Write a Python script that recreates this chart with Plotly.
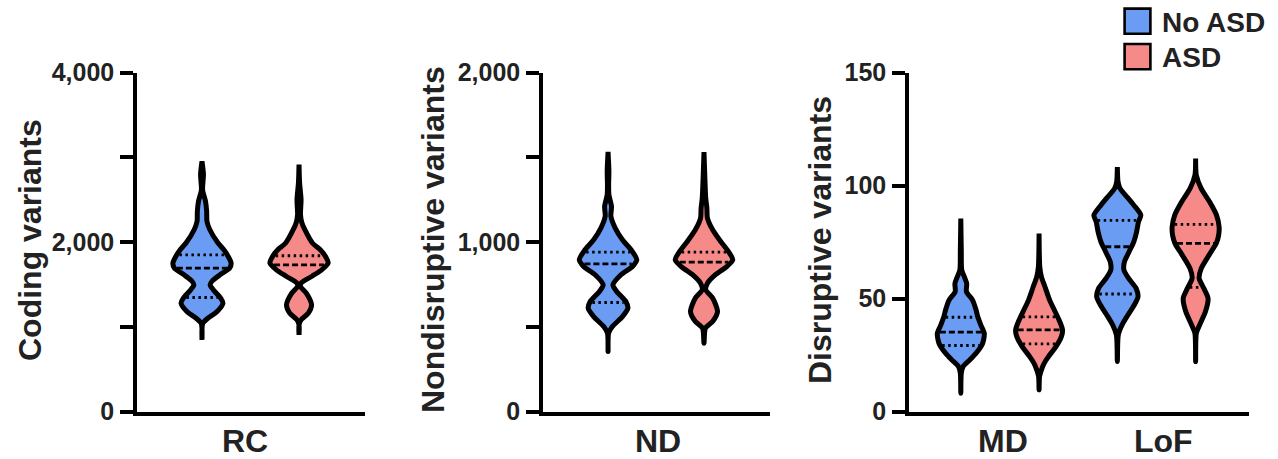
import numpy as np
import plotly.graph_objects as go

# ---------------- data ----------------
groups = ["No ASD", "ASD"]
colors = {"No ASD": "#6A9CF4", "ASD": "#F68A89"}

# Panel 1: RC (Coding variants)  -- density profile: values (y) and relative half-width
rc_no_vals = [2952, 2795, 2617, 2480, 2361, 2243, 2145, 1988, 1908, 1829, 1751, 1692, 1613, 1540, 1495, 1440, 1338, 1279, 1180, 1100, 1042, 980, 845]
rc_no_dens = [0, 0.05, 0.02, 0.12, 0.16, 0.17, 0.27, 0.55, 0.75, 0.9, 1.0, 0.95, 0.62, 0.35, 0.28, 0.38, 0.64, 0.72, 0.52, 0.2, 0.03, 0, 0]
rc_no_quart = [1345, 1692, 1849]
rc_asd_vals = [2913, 2697, 2499, 2322, 2224, 2145, 1988, 1908, 1829, 1751, 1672, 1593, 1515, 1475, 1397, 1259, 1160, 1081, 1022, 904]
rc_asd_dens = [0, 0.02, 0.07, 0.05, 0.1, 0.2, 0.46, 0.73, 0.91, 1.0, 0.78, 0.43, 0.07, 0.05, 0.25, 0.43, 0.32, 0.07, 0, 0]
rc_asd_quart = [1480, 1731, 1838]

# Panel 2: ND (Nondisruptive variants)
nd_no_vals = [1531, 1417, 1338, 1279, 1210, 1151, 1082, 1013, 954, 895, 856, 807, 747, 708, 649, 610, 560, 501, 462, 354]
nd_no_dens = [0, 0.03, 0.02, 0.03, 0.12, 0.1, 0.25, 0.5, 0.8, 1.0, 0.85, 0.45, 0.17, 0.3, 0.62, 0.69, 0.5, 0.15, 0.02, 0]
nd_no_quart = [643, 871, 940]
nd_asd_vals = [1531, 1378, 1260, 1201, 1141, 1072, 1003, 944, 895, 856, 807, 757, 718, 669, 590, 531, 492, 403]
nd_asd_dens = [0, 0.03, 0.06, 0.1, 0.12, 0.3, 0.58, 0.85, 1.0, 0.8, 0.4, 0.12, 0.06, 0.3, 0.47, 0.3, 0.05, 0]
nd_asd_quart = [728, 881, 940]

# Panel 3: MD and LoF (Disruptive variants)
md_no_vals = [85.4, 71.4, 62.6, 59.6, 56.7, 53.0, 49.3, 44.9, 42.0, 38.3, 34.6, 31.7, 29.5, 25.8, 22.8, 19.9, 17.0, 8.1]
md_no_dens = [0, 0.02, 0.04, 0.15, 0.25, 0.24, 0.5, 0.65, 0.72, 0.85, 1.0, 0.97, 0.9, 0.65, 0.38, 0.1, 0.02, 0]
md_no_quart = [29.2, 35.1, 41.7]
md_asd_vals = [78.8, 64.0, 59.6, 55.2, 49.3, 44.9, 40.5, 36.1, 33.1, 28.7, 24.3, 21.4, 18.4, 15.5, 9.6]
md_asd_dens = [0, 0.03, 0.1, 0.25, 0.45, 0.65, 0.85, 1.0, 0.95, 0.72, 0.4, 0.22, 0.1, 0.02, 0]
md_asd_quart = [29.9, 36.1, 41.9]
lof_no_vals = [108.2, 101.6, 98.6, 95.7, 91.3, 86.9, 83.9, 79.5, 75.1, 70.7, 66.2, 62.6, 58.9, 54.5, 50.8, 47.1, 42.7, 38.3, 33.9, 22.1]
lof_no_dens = [0, 0.03, 0.12, 0.35, 0.7, 1.0, 0.9, 0.82, 0.7, 0.5, 0.3, 0.28, 0.48, 0.8, 0.88, 0.72, 0.45, 0.2, 0.04, 0]
lof_no_quart = [52.0, 72.9, 84.6]
lof_asd_vals = [111.9, 104.5, 98.6, 92.7, 86.9, 81.7, 78.0, 74.4, 69.2, 63.3, 58.9, 54.5, 50.1, 44.2, 38.3, 34.6, 22.1]
lof_asd_dens = [0, 0.03, 0.24, 0.6, 0.89, 1.0, 0.98, 0.88, 0.57, 0.24, 0.15, 0.35, 0.53, 0.42, 0.17, 0.03, 0]
lof_asd_quart = [54.9, 74.4, 82.8]

panel1_categories = ["RC"]
panel2_categories = ["ND"]
panel3_categories = ["MD", "LoF"]
panel_titles = ["Coding variants", "Nondisruptive variants", "Disruptive variants"]

y1_ticks = [0, 1000, 2000, 3000, 4000]
y1_ticktext = ["0", "", "2,000", "", "4,000"]
y2_ticks = [0, 500, 1000, 1500, 2000]
y2_ticktext = ["0", "", "1,000", "", "2,000"]
y3_ticks = [0, 50, 100, 150]
y3_ticktext = ["0", "50", "100", "150"]

# ---------------- drawing ----------------
FONT = "Liberation Sans, Arial, Helvetica, sans-serif"
HALF_W = 0.15      # max half-width of a violin in category units
OFFSET = 0.25      # offset of each group from the category centre

fig = go.Figure()


def add_violin(center, vals, dens, quart, color, ax):
    v = np.array(vals, dtype=float)
    d = np.array(dens, dtype=float)
    order = np.argsort(v)
    v, d = v[order], d[order]
    xs = np.concatenate([center - HALF_W * d, (center + HALF_W * d)[::-1]])
    ys = np.concatenate([v, v[::-1]])
    fig.add_trace(go.Scatter(
        x=xs, y=ys, mode="lines", fill="toself", fillcolor=color,
        line=dict(color="black", width=5, shape="spline", smoothing=0.7),
        xaxis="x" + ax, yaxis="y" + ax, hoverinfo="skip", showlegend=False))
    for i, q in enumerate(quart):
        hw = HALF_W * np.interp(q, v, d) - 0.013
        if hw <= 0.004:
            continue
        dash = "6px,3px" if i == 1 else "2.5px,3.5px"
        fig.add_trace(go.Scatter(
            x=[center - hw, center + hw], y=[q, q], mode="lines",
            line=dict(color="black", width=2.8, dash=dash),
            xaxis="x" + ax, yaxis="y" + ax, hoverinfo="skip", showlegend=False))


panels = [
    ("", [(0, rc_no_vals, rc_no_dens, rc_no_quart, rc_asd_vals, rc_asd_dens, rc_asd_quart)]),
    ("2", [(0, nd_no_vals, nd_no_dens, nd_no_quart, nd_asd_vals, nd_asd_dens, nd_asd_quart)]),
    ("3", [(0, md_no_vals, md_no_dens, md_no_quart, md_asd_vals, md_asd_dens, md_asd_quart),
           (1, lof_no_vals, lof_no_dens, lof_no_quart, lof_asd_vals, lof_asd_dens, lof_asd_quart)]),
]
for ax, cats in panels:
    for c, nv, nd_, nq, av, ad, aq in cats:
        add_violin(c - OFFSET, nv, nd_, nq, colors["No ASD"], ax)
        add_violin(c + OFFSET, av, ad, aq, colors["ASD"], ax)

W, H = 1278, 459


def px_x(p):
    return p / W


def px_y(p):
    return (H - p) / H


ydom = [px_y(411.5), px_y(72.5)]
x_axis_common = dict(showline=True, linecolor="black", linewidth=3.5, showgrid=False,
                     zeroline=False, ticks="", showticklabels=False, fixedrange=True,
                     automargin=False)
y_axis_common = dict(showline=True, linecolor="black", linewidth=3.5, showgrid=False,
                     zeroline=False, ticks="outside", ticklen=13, tickwidth=3.5, tickcolor="black",
                     ticklabelstandoff=1, automargin=False,
                     tickfont=dict(family=FONT, size=25, color="#222", weight="bold"))

fig.update_layout(
    width=W, height=H, margin=dict(l=0, r=0, t=0, b=0, pad=0, autoexpand=False),
    paper_bgcolor="white", plot_bgcolor="white", showlegend=False,
    xaxis=dict(domain=[px_x(137), px_x(365)], range=[-0.585, 0.59], anchor="y", **x_axis_common),
    yaxis=dict(domain=ydom, range=[0, 4000], anchor="x", tickvals=y1_ticks, ticktext=y1_ticktext, **y_axis_common),
    xaxis2=dict(domain=[px_x(543), px_x(770)], range=[-0.589, 0.594], anchor="y2", **x_axis_common),
    yaxis2=dict(domain=ydom, range=[0, 2000], anchor="x2", tickvals=y2_ticks, ticktext=y2_ticktext, **y_axis_common),
    xaxis3=dict(domain=[px_x(909), px_x(1249)], range=[-0.581, 1.591], anchor="y3", **x_axis_common),
    yaxis3=dict(domain=ydom, range=[0, 150], anchor="x3", tickvals=y3_ticks, ticktext=y3_ticktext, **y_axis_common),
)

ann = []
# axis titles
for title, cx in zip(panel_titles, [30, 433, 820]):
    ann.append(dict(text=title, x=px_x(cx), y=px_y(240), xref="paper", yref="paper",
                    xanchor="center", yanchor="middle", textangle=-90, showarrow=False,
                    font=dict(family=FONT, size=32, color="#222", weight="bold")))
# category labels (placed at category centres through the axes)
label_shift = {"RC": -6, "ND": 2, "MD": 3, "LoF": 7}
for ax, cats in [("x", panel1_categories), ("x2", panel2_categories), ("x3", panel3_categories)]:
    for i, cat in enumerate(cats):
        ann.append(dict(text=cat, x=i, xref=ax, y=px_y(441), yref="paper",
                        xanchor="center", yanchor="middle", showarrow=False,
                        xshift=label_shift[cat],
                        font=dict(family=FONT, size=32, color="#222", weight="bold")))
# legend
shapes = []
for i, g in enumerate(groups):
    top = 8.6 + i * 35.4
    shapes.append(dict(type="rect", xref="paper", yref="paper",
                       x0=px_x(1124.6), x1=px_x(1150.4), y0=px_y(top + 25.2), y1=px_y(top),
                       fillcolor=colors[g], line=dict(color="black", width=2.6)))
    ann.append(dict(text=g, x=px_x(1160), y=px_y(top + 13.5), xref="paper", yref="paper",
                    xanchor="left", yanchor="middle", showarrow=False,
                    font=dict(family=FONT, size=28, color="#222", weight="bold")))

fig.update_layout(annotations=ann, shapes=shapes)
fig.write_html("out.html")
